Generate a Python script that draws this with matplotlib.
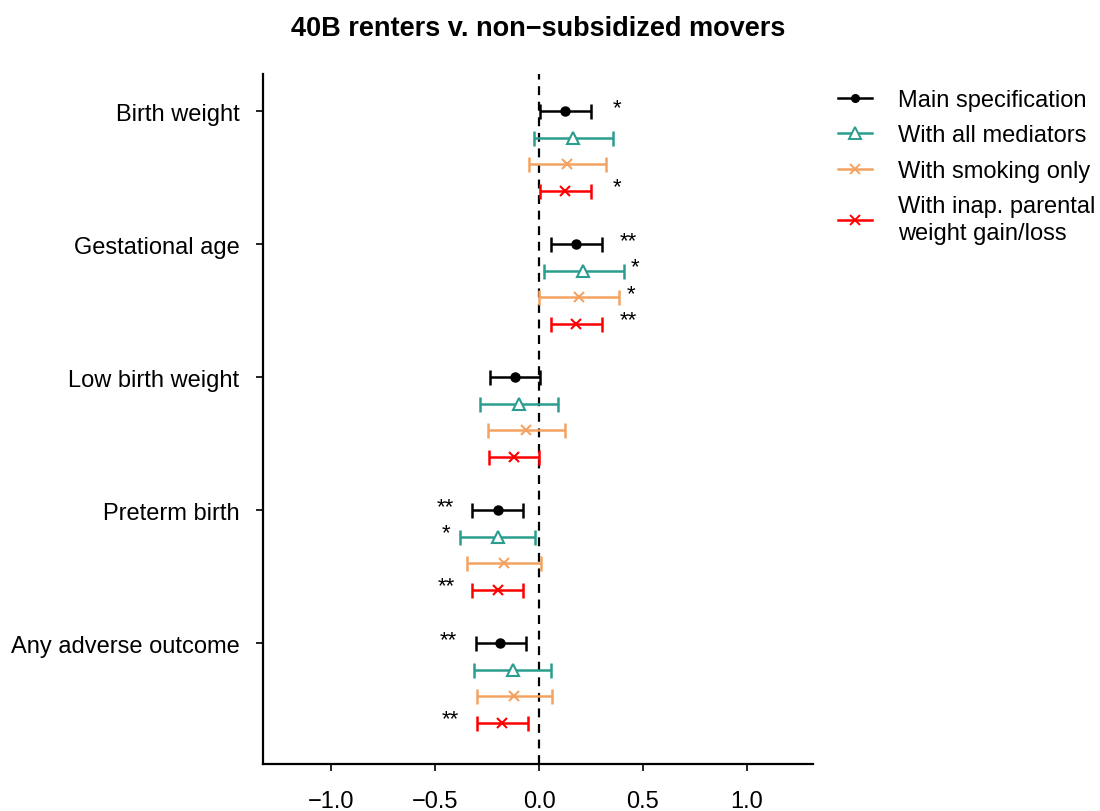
import matplotlib
matplotlib.use("Agg")
import matplotlib.pyplot as plt
from matplotlib.lines import Line2D

plt.rcParams['font.family'] = ['Liberation Sans', 'DejaVu Sans']

outcomes = ["Birth weight", "Gestational age", "Low birth weight", "Preterm birth", "Any adverse outcome"]
series = ["Main specification", "With all mediators", "With smoking only",
          "With inap. parental\nweight gain/loss"]
colors = ["#000000", "#2a9d8f", "#f4a261", "#ff0000"]
markers = ["o", "^", "x", "x"]

# estimates[series][outcome]
est = [
    [0.127, 0.180, -0.117, -0.200, -0.188],
    [0.164, 0.214, -0.096, -0.200, -0.127],
    [0.137, 0.193, -0.063, -0.169, -0.119],
    [0.127, 0.180, -0.122, -0.199, -0.177],
]
lo = [
    [0.007, 0.060, -0.238, -0.323, -0.306],
    [-0.022, 0.023, -0.284, -0.379, -0.315],
    [-0.048, 0.002, -0.247, -0.345, -0.301],
    [0.005, 0.060, -0.242, -0.321, -0.301],
]
hi = [
    [0.250, 0.302, 0.003, -0.079, -0.064],
    [0.354, 0.407, 0.092, -0.019, 0.056],
    [0.323, 0.384, 0.124, 0.011, 0.063],
    [0.252, 0.302, 0.000, -0.075, -0.055],
]
stars = [
    ["*", "**", "", "**", "**"],
    ["", "*", "", "*", ""],
    ["", "*", "", "", ""],
    ["*", "**", "", "**", "**"],
]
xticks = [-1.0, -0.5, 0.0, 0.5, 1.0]
xticklabels = ["\u22121.0", "\u22120.5", "0.0", "0.5", "1.0"]

fig = plt.figure(figsize=(11, 8.12), dpi=100)
ax = fig.add_axes([263/1100, 1-765/812, 550/1100, 690/812])

nser = len(series)
gap = nser + 1
for s in range(nser):
    for g in range(len(outcomes)):
        y = -(g * gap + s)
        e = est[s][g]
        ax.errorbar([e], [y], xerr=[[e - lo[s][g]], [hi[s][g] - e]],
                    fmt='none', ecolor=colors[s], elinewidth=1.8,
                    capsize=5.4, capthick=1.8, zorder=3)
        if markers[s] == "^":
            ax.plot([e], [y], marker="^", markersize=9, markerfacecolor="white",
                    markeredgecolor=colors[s], markeredgewidth=1.5, zorder=4)
        elif markers[s] == "o":
            ax.plot([e], [y], marker="o", markersize=6.5, color=colors[s], zorder=4)
        else:
            ax.plot([e], [y], marker="x", markersize=7.5, color=colors[s],
                    markeredgewidth=1.5, zorder=4)
        if stars[s][g]:
            sx = e + 0.25 if e > 0 else e - 0.25
            ax.text(sx, y + 0.15, stars[s][g], ha='center', va='center',
                    fontsize=16, color='black')

ax.axvline(0, color='black', linestyle=(0, (4, 3)), linewidth=1.6, zorder=2)

ax.set_xlim(-1.33, 1.32)
ax.set_ylim(-((len(outcomes) - 1) * gap + nser - 1) - 1.54, 1.4)
ax.set_xticks(xticks)
ax.set_xticklabels(xticklabels)
ax.set_yticks([-(g * gap) for g in range(len(outcomes))])
ax.set_yticklabels(outcomes)
for sp in ["top", "right"]:
    ax.spines[sp].set_visible(False)
for sp in ["left", "bottom"]:
    ax.spines[sp].set_linewidth(1.6)
ax.tick_params(axis='both', labelsize=17, length=5, width=1.2, colors='black')
ax.tick_params(axis='x', pad=13.5)
ax.tick_params(axis='y', pad=12)

ax.set_title("40B renters v. non\u2212subsidized movers", fontsize=19.5,
             fontweight='bold', pad=28)

handles = []
for s in range(nser):
    if markers[s] == "^":
        h = Line2D([], [], color=colors[s], linewidth=1.8, marker="^", markersize=8,
                   markerfacecolor="white", markeredgecolor=colors[s], markeredgewidth=1.4)
    elif markers[s] == "o":
        h = Line2D([], [], color=colors[s], linewidth=1.8, marker="o", markersize=5.5)
    else:
        h = Line2D([], [], color=colors[s], linewidth=1.8, marker="x", markersize=7,
                   markeredgewidth=1.4)
    handles.append(h)
leg = fig.legend(handles, series, loc='upper left', bbox_to_anchor=(838/1100, 1-90/812),
                 frameon=False, fontsize=17, handlelength=1.45, labelspacing=0.57,
                 handletextpad=1.1, borderpad=0, borderaxespad=0)
leg.get_texts()[-1].set_linespacing(1.3)

fig.savefig("out.png", dpi=100)
